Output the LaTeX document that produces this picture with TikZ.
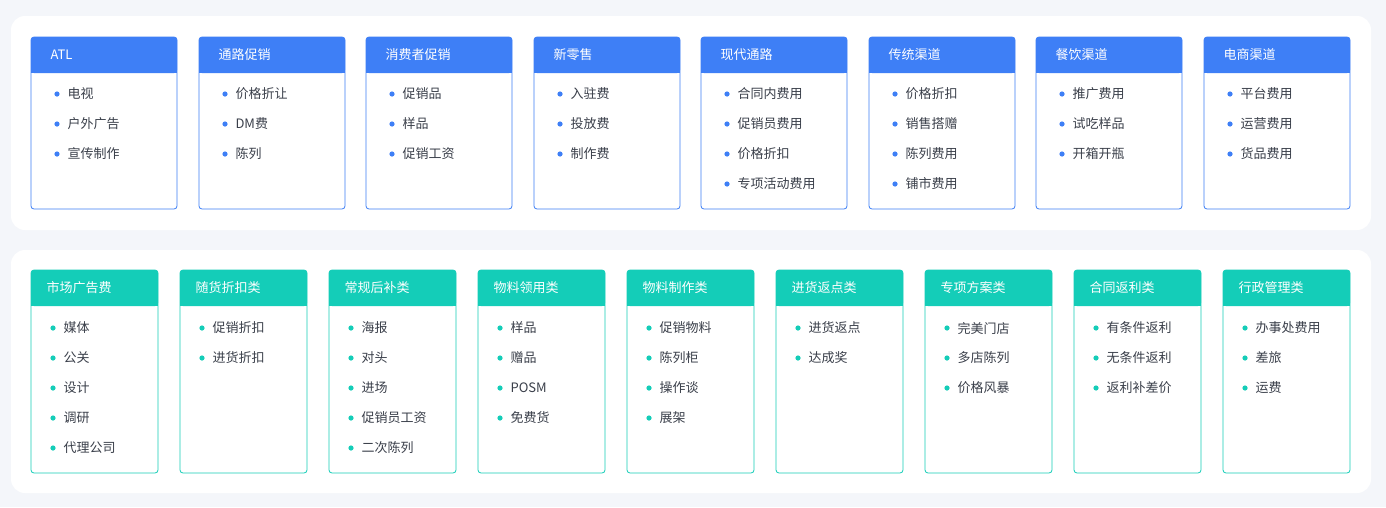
\documentclass[tikz,border=0pt]{standalone}
\usepackage{fontspec}
\setmainfont{Noto Sans CJK SC}
\definecolor{bg}{HTML}{F4F6FA}
\definecolor{blu}{HTML}{3E7FF6}
\definecolor{teal}{HTML}{14CDB8}
\definecolor{txt}{HTML}{3A3F4A}
\begin{document}
\begin{tikzpicture}[x=1pt,y=-1pt,
  panel/.style={fill=white,draw=none,rounded corners=14pt},
  hdr/.style={anchor=west,text=white,font=\fontsize{13}{15}\selectfont},
  itm/.style={anchor=west,text=txt,font=\fontsize{13}{15}\selectfont},
  dotb/.style={fill=blu,draw=none},
  dott/.style={fill=teal,draw=none}]
\fill[bg] (0,0) rectangle (1386,507);
\useasboundingbox (0,0) rectangle (1386,507);
\fill[panel] (11,16) rectangle (1371,230);
\fill[panel] (11,250) rectangle (1371,493);
% top row
\foreach \x/\h/\items [count=\i] in {
 31/ATL/{电视,户外广告,宣传制作},
 199/通路促销/{价格折让,DM费,陈列},
 366/消费者促销/{促销品,样品,促销工资},
 534/新零售/{入驻费,投放费,制作费},
 701/现代通路/{合同内费用,促销员费用,价格折扣,专项活动费用},
 869/传统渠道/{价格折扣,销售搭赠,陈列费用,铺市费用},
 1036/餐饮渠道/{推广费用,试吃样品,开箱开瓶},
 1204/电商渠道/{平台费用,运营费用,货品费用}}{
  \draw[blu,rounded corners=3pt,line width=0.8pt] (\x,37) rectangle (\x+146,209);
  \fill[blu,rounded corners=3pt] (\x,37) rectangle (\x+146,73);
  \fill[blu] (\x,60) rectangle (\x+146,73);
  \node[hdr] (th\i) at (\x+16,54.5) {\h};
  \foreach \t [count=\j] in \items {
    \fill[dotb] (\x+26,64+30*\j) circle (2.6);
    \node[itm] (ti\i-\j) at (\x+33,64+30*\j) {\t};
  }
}
% bottom row
\foreach \x/\h/\items [count=\i] in {
 31/市场广告费/{媒体,公关,设计,调研,代理公司},
 180/随货折扣类/{促销折扣,进货折扣},
 329/常规后补类/{海报,对头,进场,促销员工资,二次陈列},
 478/物料领用类/{样品,赠品,POSM,免费货},
 627/物料制作类/{促销物料,陈列柜,操作谈,展架},
 776/进货返点类/{进货返点,达成奖},
 925/专项方案类/{完美门店,多店陈列,价格风暴},
 1074/合同返利类/{有条件返利,无条件返利,返利补差价},
 1223/行政管理类/{办事处费用,差旅,运费}}{
  \draw[teal,rounded corners=3pt,line width=0.8pt] (\x,270) rectangle (\x+127,473);
  \fill[teal,rounded corners=3pt] (\x,270) rectangle (\x+127,306);
  \fill[teal] (\x,293) rectangle (\x+127,306);
  \node[hdr] (bh\i) at (\x+12,288) {\h};
  \foreach \t [count=\j] in \items {
    \fill[dott] (\x+22,298+30*\j) circle (2.6);
    \node[itm] (bi\i-\j) at (\x+29,298+30*\j) {\t};
  }
}
\end{tikzpicture}
\end{document}
